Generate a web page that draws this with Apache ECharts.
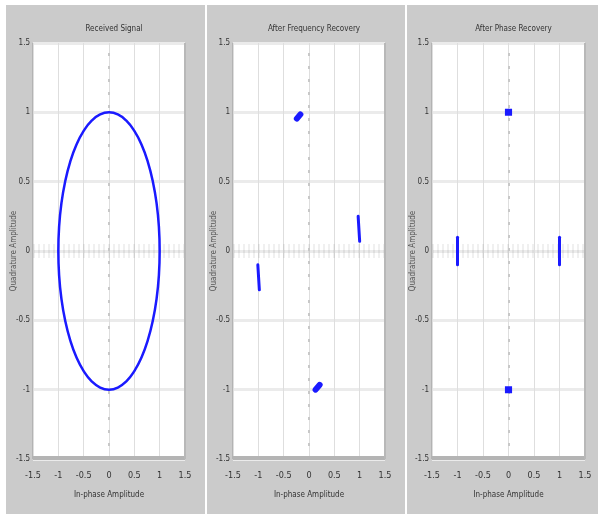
<!DOCTYPE html>
<html>
<head>
<meta charset="utf-8">
<script src="https://cdn.jsdelivr.net/npm/echarts@6/dist/echarts.min.js"></script>
<style>
html,body{margin:0;padding:0;background:#fff;}
#c{width:598px;height:514px;}
</style>
</head>
<body>
<div id="c"></div>
<script>
// ---- data ----
var titles = ['Received Signal', 'After Frequency Recovery', 'After Phase Recovery'];
var xName = 'In-phase Amplitude';
var yName = 'Quadrature Amplitude';
var tickLabels = ['-1.5', '-1', '-0.5', '0', '0.5', '1', '1.5'];

// Panel 1: received signal ring (points read every 10 degrees around)
var ringX = [1, 0.985, 0.94, 0.866, 0.766, 0.643, 0.5, 0.342, 0.174, 0,
  -0.174, -0.342, -0.5, -0.643, -0.766, -0.866, -0.94, -0.985, -1,
  -0.985, -0.94, -0.866, -0.766, -0.643, -0.5, -0.342, -0.174, 0,
  0.174, 0.342, 0.5, 0.643, 0.766, 0.866, 0.94, 0.985, 1, 0.985];
var ringY = [0, 0.174, 0.342, 0.5, 0.643, 0.766, 0.866, 0.94, 0.985, 1,
  0.985, 0.94, 0.866, 0.766, 0.643, 0.5, 0.342, 0.174, 0,
  -0.174, -0.342, -0.5, -0.643, -0.766, -0.866, -0.94, -0.985, -1,
  -0.985, -0.94, -0.866, -0.766, -0.643, -0.5, -0.342, -0.174, 0, 0.174];

// Panel 2: clusters after frequency recovery (start/end of each streak)
var freqTop = [[-0.24, 0.955], [-0.17, 0.985]];
var freqRight = [[0.97, 0.25], [1.0, 0.07]];
var freqLeft = [[-1.01, -0.10], [-0.98, -0.28]];
var freqBottom = [[0.13, -1.0], [0.21, -0.965]];

// Panel 3: clusters after phase recovery
var phaseTop = [[-0.07, 1.0], [0.07, 1.0]];
var phaseBottom = [[-0.07, -1.0], [0.07, -1.0]];
var phaseRight = [[1.0, -0.1], [1.0, 0.1]];
var phaseLeft = [[-1.0, -0.1], [-1.0, 0.1]];

// ---- layout ----
var grids = [
  {left: 33, top: 43, width: 152, height: 416},
  {left: 233, top: 43, width: 152, height: 416},
  {left: 432, top: 43, width: 153, height: 416}
];
var panels = [[6, 205], [207, 405], [407, 598]];
var FONT = '"DejaVu Sans Condensed", "Liberation Sans Narrow", "Liberation Sans", sans-serif';
var BLUE = '#1a1aff';

var ringData = ringX.map(function (x, i) { return [x, ringY[i]]; });

var graphic = [];
panels.forEach(function (p) {
  graphic.push({type: 'rect', z: -10, shape: {x: p[0], y: 5, width: p[1] - p[0], height: 514}, style: {fill: '#cbcbcb'}});
});
grids.forEach(function (g) {
  graphic.push({type: 'rect', z: 100, shape: {x: g.left, y: g.top + g.height - 3, width: g.width, height: 4}, style: {fill: '#b4b4b4'}});
  graphic.push({type: 'rect', z: 100, shape: {x: g.left + g.width - 1, y: g.top, width: 2, height: g.height}, style: {fill: '#b8b8b8'}});
});

var xAxes = [], yAxes = [], titleArr = [], series = [];
grids.forEach(function (g, i) {
  titleArr.push({
    text: titles[i], left: g.left + g.width / 2, top: 20, textAlign: 'center',
    textStyle: {fontSize: 8, fontWeight: 'normal', color: '#333', fontFamily: FONT}
  });
  xAxes.push({
    gridIndex: i, type: 'value', min: -1.5, max: 1.5, interval: 0.5,
    name: xName, nameLocation: 'middle', nameGap: 32,
    nameTextStyle: {fontSize: 8, color: '#333', fontFamily: FONT},
    axisLine: {show: false}, axisTick: {show: false},
    axisLabel: {margin: 12, fontSize: 9, color: '#333', fontFamily: FONT,
      formatter: function (v) { var k = Math.round((v + 1.5) * 2); return tickLabels[k]; }},
    splitLine: {show: true, lineStyle: {color: '#dedede', width: 1}}
  });
  yAxes.push({
    gridIndex: i, type: 'value', min: -1.5, max: 1.5, interval: 0.5,
    name: yName, nameLocation: 'middle', nameGap: 15, nameRotate: 90,
    nameMoveOverlap: false,
    nameTextStyle: {fontSize: 8, color: '#555', fontFamily: FONT},
    axisLine: {show: false}, axisTick: {show: false},
    axisLabel: {margin: 3, fontSize: 8, color: '#333', fontFamily: FONT,
      formatter: function (v) { var k = Math.round((v + 1.5) * 2); return tickLabels[k]; }},
    splitLine: {show: true, lineStyle: {color: '#ebebeb', width: 3}}
  });
  // zero lines
  series.push({
    type: 'line', xAxisIndex: i, yAxisIndex: i, data: [], silent: true,
    markLine: {
      silent: true, symbol: 'none', animation: false, label: {show: false},
      data: [
        {yAxis: 0, lineStyle: {color: 'rgba(0,0,0,0.06)', width: 14, type: [2, 3]}},
        {xAxis: 0, lineStyle: {color: '#c8c8c8', width: 2, type: [3, 10]}}
      ]
    }
  });
});

function seg(data, idx, width, cap) {
  return {
    type: 'line', xAxisIndex: idx, yAxisIndex: idx, data: data, symbol: 'none',
    animation: false, z: 5,
    lineStyle: {color: BLUE, width: width, cap: cap || 'round'}
  };
}

series.push({
  type: 'line', xAxisIndex: 0, yAxisIndex: 0, data: ringData, smooth: true,
  symbol: 'none', animation: false, z: 5,
  lineStyle: {color: BLUE, width: 2.5}
});
series.push(seg(freqTop, 1, 6));
series.push(seg(freqRight, 1, 3));
series.push(seg(freqLeft, 1, 3));
series.push(seg(freqBottom, 1, 6));
series.push(seg(phaseTop, 2, 7, 'butt'));
series.push(seg(phaseBottom, 2, 7, 'butt'));
series.push(seg(phaseRight, 2, 3));
series.push(seg(phaseLeft, 2, 3));

var chart = echarts.init(document.getElementById('c'), null, {renderer: 'canvas'});
chart.setOption({
  animation: false,
  title: titleArr,
  graphic: graphic,
  grid: grids.map(function (g) {
    return {left: g.left, top: g.top, width: g.width, height: g.height, show: true,
      backgroundColor: '#fff', borderColor: '#9a9a9a', borderWidth: 1};
  }),
  xAxis: xAxes,
  yAxis: yAxes,
  series: series
});
</script>
</body>
</html>
